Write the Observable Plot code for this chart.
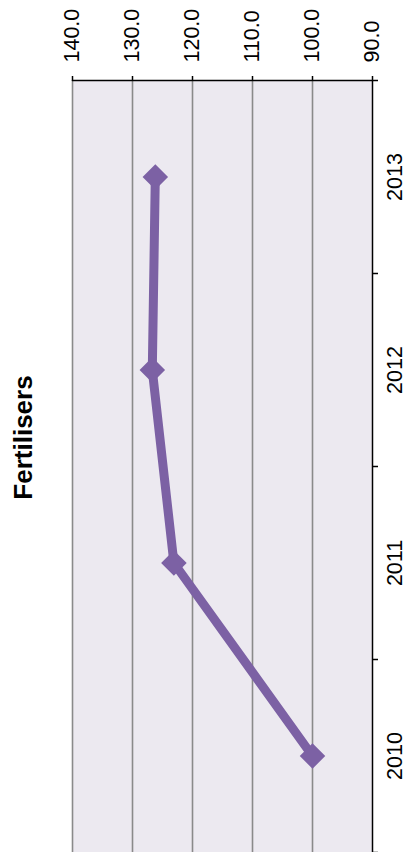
<!DOCTYPE html>
<html>
<head>
<meta charset="utf-8">
<script src="https://cdn.jsdelivr.net/npm/d3@7"></script>
<script src="https://cdn.jsdelivr.net/npm/@observablehq/plot@0.6"></script>
<style>
  html, body { margin: 0; padding: 0; background: #ffffff; }
  #chart svg { display: block; font-family: "Liberation Sans", Arial, sans-serif; }
</style>
</head>
<body>
<div id="chart"></div>
<script>
const title = "Fertilisers";
const years = [2010, 2011, 2012, 2013];
const values = [100.0, 123.1, 126.7, 126.2];
const valueTicks = [90, 100, 110, 120, 130, 140];

const data = years.map((year, i) => ({year, value: values[i]}));
const boundaries = [years[0] - 0.5, ...years.map(y => y + 0.5)];

const purple = "#7c61a4";
const chart = Plot.plot({
  width: 409,
  height: 852,
  marginTop: 80,
  marginRight: 37,
  marginBottom: 0,
  marginLeft: 72,
  style: {fontFamily: "'Liberation Sans', Arial, sans-serif", fontSize: "21px", color: "#000", background: "#fff"},
  x: {domain: [90, 140], reverse: true},
  y: {domain: [years[0] - 0.5, years[years.length - 1] + 0.5]},
  marks: [
    Plot.frame({fill: "#ece9f0", stroke: null}),
    Plot.gridX({ticks: valueTicks.filter(v => v !== 90), stroke: "#8a8a8a", strokeOpacity: 1, strokeWidth: 1.6}),
    Plot.ruleX([90], {stroke: "#000", strokeWidth: 1.5}),
    Plot.ruleY([boundaries[boundaries.length - 1]], {stroke: "#000", strokeWidth: 1.5}),
    Plot.axisX({anchor: "top", ticks: valueTicks, tickFormat: d => d.toFixed(1), tickSize: 5, tickPadding: 13, tickRotate: -90, label: null, fontSize: 21.5, strokeWidth: 1.5}),
    Plot.axisY({anchor: "right", ticks: boundaries, tickFormat: () => "", tickSize: 5, label: null, strokeWidth: 1.5}),
    Plot.axisY({anchor: "right", ticks: years, tickFormat: d => String(d), tickSize: 0, tickPadding: 29, tickRotate: -90, label: null, fontSize: 21.5}),
    Plot.line(data, {x: "value", y: "year", stroke: purple, strokeWidth: 9}),
    Plot.dot(data, {x: "value", y: "year", symbol: "diamond2", r: 11.5, fill: purple, stroke: null}),
    Plot.text([title], {frameAnchor: "left", textAnchor: "middle", dx: -49, dy: -29, rotate: -90, fontWeight: "bold", fontSize: 26, fill: "#000"})
  ]
});
document.getElementById("chart").appendChild(chart);
</script>
</body>
</html>
